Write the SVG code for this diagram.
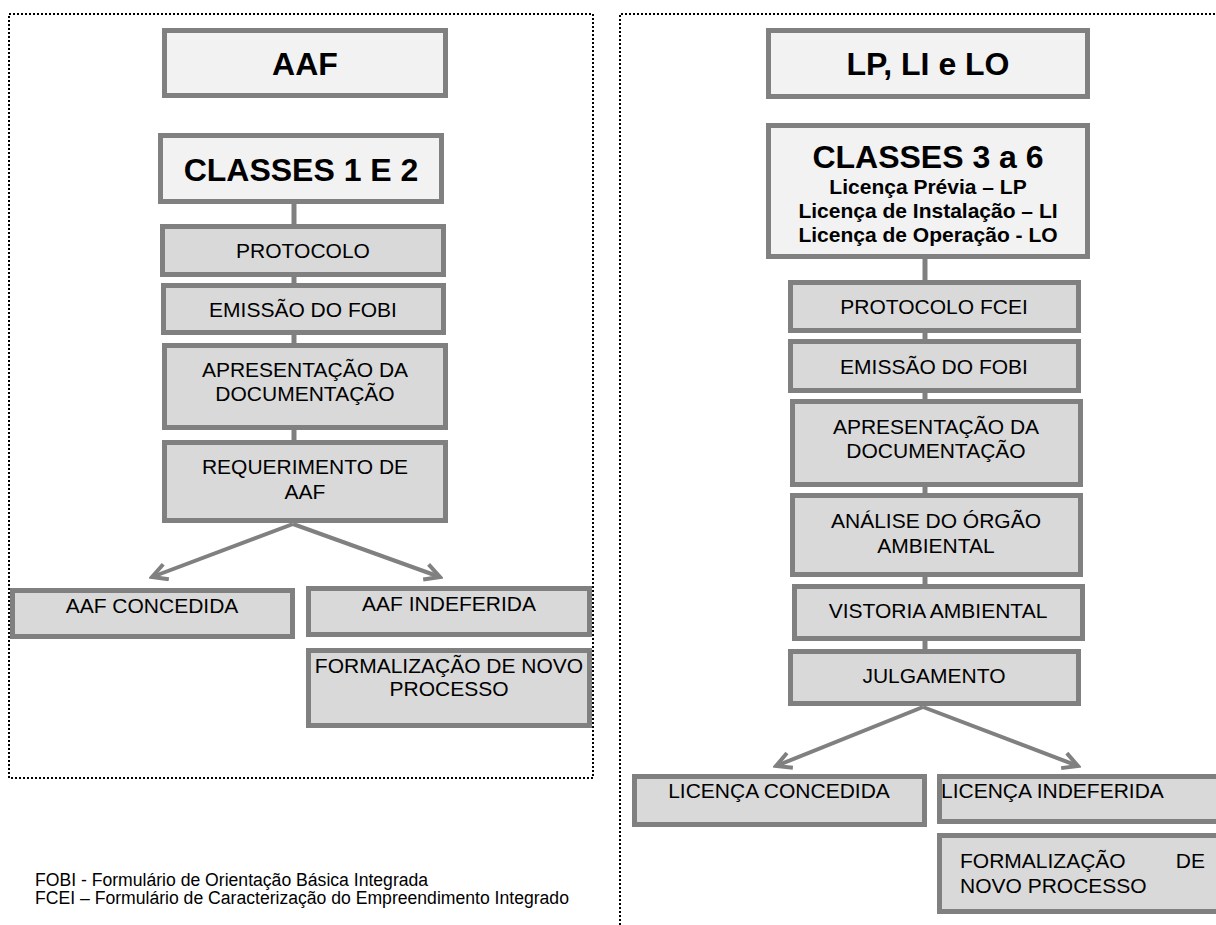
<svg xmlns="http://www.w3.org/2000/svg" width="1216" height="925" viewBox="0 0 1216 925">
<defs>
<style>
.frame{fill:none;stroke:#000;stroke-width:2;stroke-dasharray:2,2}
.ttl{fill:#f2f2f2;stroke:#808080;stroke-width:5}
.stp{fill:#d9d9d9;stroke:#808080;stroke-width:5}
.con{stroke:#808080;stroke-width:5;fill:none}
.arr{stroke:#808080;stroke-width:4;fill:none}
.big{font-family:"Liberation Sans",Arial,sans-serif;font-weight:bold;font-size:32px;fill:#000;text-anchor:middle}
.sub{font-family:"Liberation Sans",Arial,sans-serif;font-weight:bold;font-size:21px;fill:#000;text-anchor:middle}
.t{font-family:"Liberation Sans",Arial,sans-serif;font-size:21px;fill:#000;text-anchor:middle}
.ts{font-family:"Liberation Sans",Arial,sans-serif;font-size:21px;fill:#000}
.note{font-family:"Liberation Sans",Arial,sans-serif;font-size:17.6px;fill:#000}
</style>
<marker id="ah" viewBox="0 0 20 20" refX="17" refY="10" markerWidth="20" markerHeight="20" markerUnits="userSpaceOnUse" orient="auto">
<path d="M2,2 L17,10 L2,18" stroke="#808080" stroke-width="4" fill="none"/>
</marker>
</defs>
<rect width="1216" height="925" fill="#fff"/>

<g id="frames">
<rect class="frame" x="9" y="14" width="584" height="764"/>
<path class="frame" d="M620,925 L620,14 L1216,14"/>
</g>

<g id="connectors">
<line class="con" x1="294" y1="204" x2="294" y2="226"/>
<line class="con" x1="294" y1="277" x2="294" y2="285"/>
<line class="con" x1="294" y1="335" x2="294" y2="345"/>
<line class="con" x1="294" y1="430" x2="294" y2="442"/>
<line class="arr" x1="293" y1="524" x2="152" y2="577" marker-end="url(#ah)"/>
<line class="arr" x1="293" y1="524" x2="440" y2="577" marker-end="url(#ah)"/>
<line class="con" x1="925" y1="259" x2="925" y2="282"/>
<line class="con" x1="925" y1="333" x2="925" y2="341"/>
<line class="con" x1="925" y1="393" x2="925" y2="401"/>
<line class="con" x1="925" y1="487" x2="925" y2="495"/>
<line class="con" x1="925" y1="577" x2="925" y2="586"/>
<line class="con" x1="925" y1="641" x2="925" y2="651"/>
<line class="arr" x1="923" y1="707" x2="776" y2="766" marker-end="url(#ah)"/>
<line class="arr" x1="923" y1="707" x2="1078" y2="766" marker-end="url(#ah)"/>
</g>

<g id="aaf">
<rect class="ttl" x="164.5" y="30.5" width="281" height="65"/>
<text class="big" x="305" y="75">AAF</text>
</g>
<g id="classes12">
<rect class="ttl" x="160.5" y="135.5" width="281" height="66"/>
<text class="big" x="301" y="181">CLASSES 1 E 2</text>
</g>
<g id="protocolo">
<rect class="stp" x="162.5" y="226.5" width="281" height="48"/>
<text class="t" x="303" y="258">PROTOCOLO</text>
</g>
<g id="emissao1">
<rect class="stp" x="163.5" y="285.5" width="280" height="47"/>
<text class="t" x="303" y="317">EMISSÃO DO FOBI</text>
</g>
<g id="apresentacao1">
<rect class="stp" x="164.5" y="345.5" width="281" height="82"/>
<text class="t" x="305" y="377">APRESENTAÇÃO DA</text>
<text class="t" x="305" y="401">DOCUMENTAÇÃO</text>
</g>
<g id="requerimento">
<rect class="stp" x="164.5" y="442.5" width="281" height="78"/>
<text class="t" x="305" y="474">REQUERIMENTO DE</text>
<text class="t" x="305" y="499">AAF</text>
</g>
<g id="aafconcedida">
<rect class="stp" x="12.5" y="590.5" width="280" height="46"/>
<text class="t" x="152" y="613">AAF CONCEDIDA</text>
</g>
<g id="aafindeferida">
<rect class="stp" x="308.5" y="588.5" width="281" height="46"/>
<text class="t" x="449" y="611">AAF INDEFERIDA</text>
</g>
<g id="formalizacao1">
<rect class="stp" x="308.5" y="650.5" width="281" height="75"/>
<text class="t" x="449" y="673">FORMALIZAÇÃO DE NOVO</text>
<text class="t" x="449" y="696">PROCESSO</text>
</g>

<g id="lplilo">
<rect class="ttl" x="768.5" y="30.5" width="319" height="66"/>
<text class="big" x="928" y="75">LP, LI e LO</text>
</g>
<g id="classes36">
<rect class="ttl" x="768.5" y="125.5" width="319" height="131"/>
<text class="big" x="928" y="168">CLASSES 3 a 6</text>
<text class="sub" x="928" y="194">Licença Prévia – LP</text>
<text class="sub" x="928" y="218">Licença de Instalação – LI</text>
<text class="sub" x="928" y="242">Licença de Operação - LO</text>
</g>
<g id="protocolofcei">
<rect class="stp" x="790.5" y="282.5" width="288" height="48"/>
<text class="t" x="934" y="314">PROTOCOLO FCEI</text>
</g>
<g id="emissao2">
<rect class="stp" x="790.5" y="341.5" width="288" height="49"/>
<text class="t" x="934" y="374">EMISSÃO DO FOBI</text>
</g>
<g id="apresentacao2">
<rect class="stp" x="792.5" y="401.5" width="288" height="83"/>
<text class="t" x="936" y="434">APRESENTAÇÃO DA</text>
<text class="t" x="936" y="458">DOCUMENTAÇÃO</text>
</g>
<g id="analise">
<rect class="stp" x="792.5" y="495.5" width="288" height="79"/>
<text class="t" x="936" y="528">ANÁLISE DO ÓRGÃO</text>
<text class="t" x="936" y="553">AMBIENTAL</text>
</g>
<g id="vistoria">
<rect class="stp" x="794.5" y="586.5" width="288" height="52"/>
<text class="t" x="938" y="618">VISTORIA AMBIENTAL</text>
</g>
<g id="julgamento">
<rect class="stp" x="790.5" y="651.5" width="288" height="52"/>
<text class="t" x="934" y="683">JULGAMENTO</text>
</g>
<g id="licencaconcedida">
<rect class="stp" x="634.5" y="776.5" width="290" height="48"/>
<text class="t" x="779" y="798">LICENÇA CONCEDIDA</text>
</g>
<g id="licencaindeferida">
<rect class="stp" x="939.5" y="776.5" width="300" height="45"/>
<text class="ts" x="941" y="798">LICENÇA INDEFERIDA</text>
</g>
<g id="formalizacao2">
<rect class="stp" x="939.5" y="835.5" width="300" height="76"/>
<text class="ts" x="960" y="868">FORMALIZAÇÃO</text>
<text class="ts" x="1205" y="868" text-anchor="end">DE</text>
<text class="ts" x="960" y="893">NOVO PROCESSO</text>
</g>

<g id="notes">
<text class="note" x="35" y="886">FOBI - Formulário de Orientação Básica Integrada</text>
<text class="note" x="35" y="904">FCEI – Formulário de Caracterização do Empreendimento Integrado</text>
</g>
</svg>
